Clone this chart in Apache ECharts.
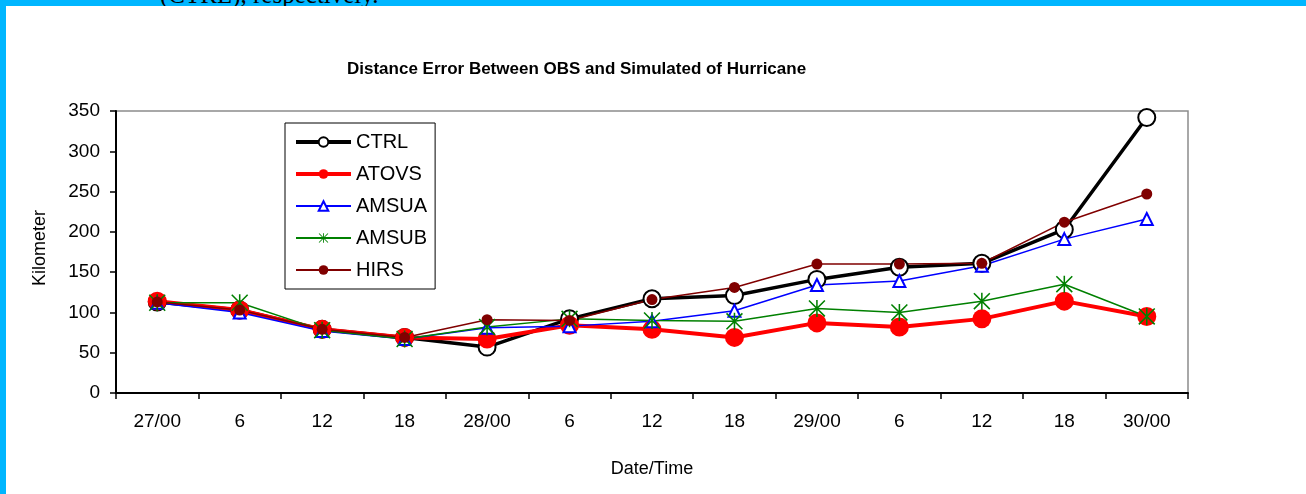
<!DOCTYPE html>
<html>
<head>
<meta charset="utf-8">
<script src="https://cdn.jsdelivr.net/npm/echarts@6/dist/echarts.min.js"></script>
<style>
  html, body { margin: 0; padding: 0; }
  body { width: 1306px; height: 494px; background: #00b6ff; position: relative; overflow: hidden; }
  #caption {
    position: absolute; left: 160px; top: -19px;
    font: 25px "Liberation Serif", serif; color: #000; white-space: nowrap;
  }
  #chart { position: absolute; left: 6px; top: 6px; width: 1300px; height: 488px; background: #fff; }
</style>
</head>
<body>
<div id="caption">(CTRL), respectively.</div>
<div id="chart"></div>
<script>
// ======================
// DATA
// ======================

const categories = ['27/00', '6', '12', '18', '28/00', '6', '12', '18', '29/00', '6', '12', '18', '30/00'];

const ctrl  = [113, 103, 79, 69, 57, 92, 117, 121, 141, 156, 161, 203, 342];
const atovs = [114, 103, 79, 69, 67, 84, 79, 69, 87, 82, 92, 114, 95];
const amsua = [112, 100, 77, 67, 81, 83, 89, 102, 134, 139, 158, 191, 216];
const amsub = [112, 112, 78, 67, 82, 92, 90, 89, 105, 100, 114, 135, 95];
const hirs  = [113, 103, 79, 69, 91, 90, 116, 131, 160, 160, 161, 212, 247];

const yTicks = { min: 0, max: 350, interval: 50 };

// asterisk marker (Excel style star)
const STAR = 'path://M9.1 0H10.9V20H9.1Z M0 1.3L1.3 0L20 18.7L18.7 20Z M18.7 0L20 1.3L1.3 20L0 18.7Z';

const FONT = '"Liberation Sans", Arial, sans-serif';

// ======================
// CHART
// ======================

const chart = echarts.init(document.getElementById('chart'), null, { renderer: 'canvas' });

chart.setOption({
    animation: false,
    backgroundColor: '#fff',
    title: {
        text: 'Distance Error Between OBS and Simulated of Hurricane',
        left: 341,
        top: 55,
        padding: 0,
        textStyle: { fontFamily: FONT, fontSize: 17, fontWeight: 'bold', color: '#000' }
    },
    legend: {
        orient: 'vertical',
        left: 279,
        top: 117,
        padding: [9, 8, 9, 9],
        itemGap: 12,
        itemWidth: 55,
        itemHeight: 12,
        backgroundColor: '#fff',
        borderColor: '#000',
        borderWidth: 1,
        borderRadius: 0,
        textStyle: { fontFamily: FONT, fontSize: 20, color: '#000' },
        data: [
            { name: 'CTRL', lineStyle: { width: 4 } },
            { name: 'ATOVS', lineStyle: { width: 4 } },
            { name: 'AMSUA', lineStyle: { width: 2 } },
            { name: 'AMSUB', lineStyle: { width: 2 } },
            { name: 'HIRS', lineStyle: { width: 2 } }
        ]
    },
    graphic: [{
        type: 'text',
        x: 34,
        y: 242,
        rotation: Math.PI / 2,
        style: {
            text: 'Kilometer',
            font: '18px ' + FONT,
            fill: '#000',
            align: 'center',
            verticalAlign: 'middle'
        }
    }],
    grid: {
        left: 110,
        right: 118,
        top: 105,
        bottom: 101,
        show: true,
        borderColor: '#8c8c8c',
        borderWidth: 1.5
    },
    xAxis: {
        type: 'category',
        data: categories,
        boundaryGap: true,
        name: 'Date/Time',
        nameLocation: 'middle',
        nameGap: 67,
        nameTextStyle: { fontFamily: FONT, fontSize: 18, color: '#000' },
        axisLine: { lineStyle: { color: '#000', width: 2 } },
        axisTick: { show: true, alignWithLabel: false, length: 6, lineStyle: { color: '#000', width: 1.5 } },
        axisLabel: { fontFamily: FONT, fontSize: 19, color: '#000', margin: 19, interval: 0 },
        splitLine: { show: false }
    },
    yAxis: {
        type: 'value',
        min: yTicks.min,
        max: yTicks.max,
        interval: yTicks.interval,
        axisLine: { show: true, lineStyle: { color: '#000', width: 2 } },
        axisTick: { show: true, length: 6, lineStyle: { color: '#000', width: 1.5 } },
        axisLabel: { fontFamily: FONT, fontSize: 19, color: '#000', margin: 16 },
        splitLine: { show: false }
    },
    series: [
        {
            name: 'CTRL',
            type: 'line',
            data: ctrl,
            symbol: 'circle',
            symbolSize: 17,
            lineStyle: { color: '#000', width: 3.5 },
            itemStyle: { color: '#fff', borderColor: '#000', borderWidth: 2 }
        },
        {
            name: 'ATOVS',
            type: 'line',
            data: atovs,
            symbol: 'circle',
            symbolSize: 19,
            lineStyle: { color: '#ff0000', width: 4 },
            itemStyle: { color: '#ff0000', borderWidth: 0 }
        },
        {
            name: 'AMSUA',
            type: 'line',
            data: amsua,
            symbol: 'triangle',
            symbolSize: 12,
            lineStyle: { color: '#0000ff', width: 1.5 },
            itemStyle: { color: '#fff', borderColor: '#0000ff', borderWidth: 2 }
        },
        {
            name: 'AMSUB',
            type: 'line',
            data: amsub,
            symbol: STAR,
            symbolSize: 17,
            lineStyle: { color: '#008000', width: 1.5 },
            itemStyle: { color: '#008000', borderWidth: 0 }
        },
        {
            name: 'HIRS',
            type: 'line',
            data: hirs,
            symbol: 'circle',
            symbolSize: 11,
            lineStyle: { color: '#800000', width: 1.5 },
            itemStyle: { color: '#800000', borderWidth: 0 }
        }
    ]
});
</script>
</body>
</html>
